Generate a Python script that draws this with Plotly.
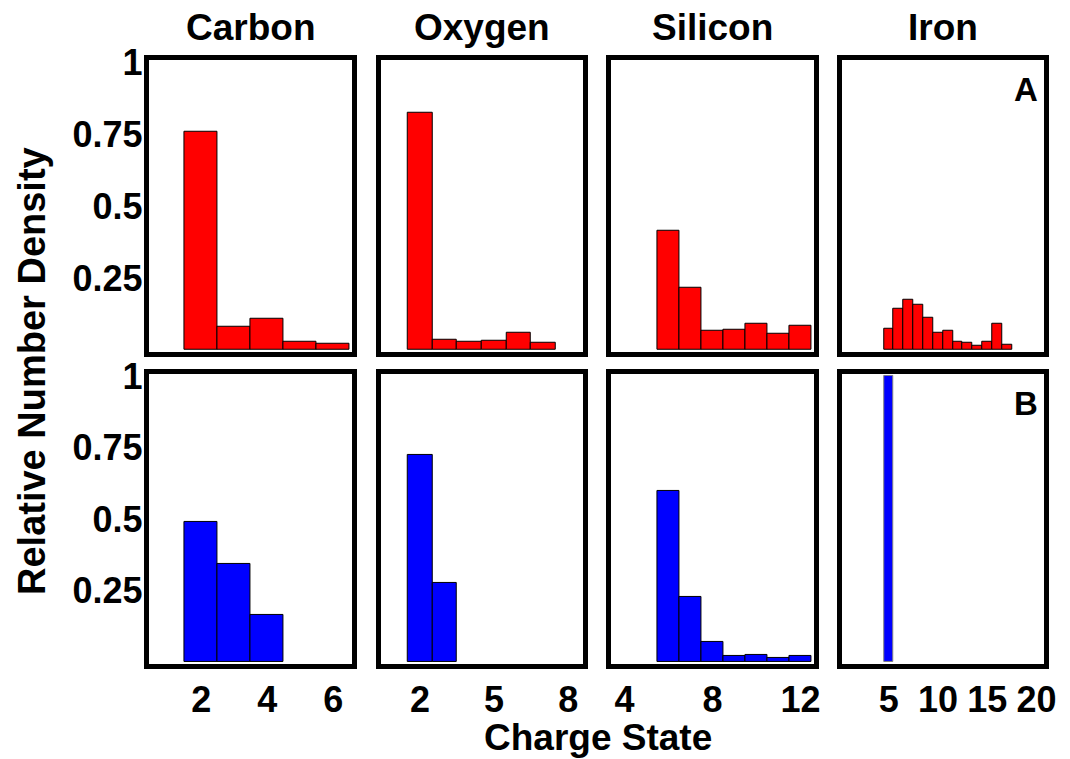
import plotly.graph_objects as go

# ---------------- data ----------------
elements = ["Carbon", "Oxygen", "Silicon", "Iron"]

carbon_states_A = [2, 3, 4, 5, 6]
carbon_A = [0.758, 0.082, 0.108, 0.030, 0.022]
carbon_states_B = [2, 3, 4]
carbon_B = [0.492, 0.344, 0.164]

oxygen_states_A = [2, 3, 4, 5, 6, 7]
oxygen_A = [0.822, 0.036, 0.028, 0.034, 0.061, 0.026]
oxygen_states_B = [2, 3]
oxygen_B = [0.724, 0.277]

silicon_states_A = [6, 7, 8, 9, 10, 11, 12]
silicon_A = [0.415, 0.217, 0.067, 0.071, 0.090, 0.057, 0.086]
silicon_states_B = [6, 7, 8, 9, 10, 11, 12]
silicon_B = [0.599, 0.229, 0.071, 0.021, 0.026, 0.014, 0.023]

iron_states_A = [5, 6, 7, 8, 9, 10, 11, 12, 13, 14, 15, 16, 17]
iron_A = [0.073, 0.142, 0.176, 0.157, 0.112, 0.059, 0.067, 0.028, 0.026, 0.014, 0.030, 0.092, 0.020]
iron_states_B = [5]
iron_B = [1.0]

x_ranges = [[0.5, 6.5], [0.5, 8.5], [3.5, 12.5], [0.5, 20.5]]
x_ticks = [[2, 4, 6], [2, 5, 8], [4, 8, 12], [5, 10, 15, 20]]
y_ticks = [0.25, 0.5, 0.75, 1]
y_ticktext = ["0.25", "0.5", "0.75", "1"]
panel_labels = ["A", "B"]

rows_data = [
    [(carbon_states_A, carbon_A), (oxygen_states_A, oxygen_A),
     (silicon_states_A, silicon_A), (iron_states_A, iron_A)],
    [(carbon_states_B, carbon_B), (oxygen_states_B, oxygen_B),
     (silicon_states_B, silicon_B), (iron_states_B, iron_B)],
]
row_colors = ["#ff0000", "#0000ff"]

# ---------------- layout geometry (px, border centres) ----------------
W, H = 1070, 759
LW = 4.5
col_px = [(147.2, 354.3), (378.5, 585.0), (609.2, 815.8), (840.0, 1045.8)]
row_px = [(57.5, 354.5), (371.7, 666.7)]

FONT = "Liberation Sans, Arial, Helvetica, sans-serif"

fig = go.Figure()
layout = dict(
    width=W, height=H,
    margin=dict(l=0, r=0, t=0, b=0, autoexpand=False),
    paper_bgcolor="white", plot_bgcolor="white",
    showlegend=False,
    font=dict(family=FONT, size=36, color="black", weight="bold"),
    bargap=0,
)

annotations = []
k = 0
for r in range(2):
    y0, y1 = row_px[r]
    ppu_y = (y1 - y0) / 1.0
    pad_y = (LW / 2) / ppu_y
    for c in range(4):
        k += 1
        xs, ys = rows_data[r][c]
        x0, x1 = col_px[c]
        xr = x_ranges[c]
        ppu_x = (x1 - x0) / (xr[1] - xr[0])
        pad_x = (LW / 2) / ppu_x
        xname = "x" if k == 1 else f"x{k}"
        yname = "y" if k == 1 else f"y{k}"
        outline = "#808080" if (r == 1 and c == 3) else "black"
        fig.add_trace(go.Bar(
            x=xs, y=ys, width=1.0,
            marker=dict(color=row_colors[r], line=dict(color=outline, width=1)),
            xaxis=xname, yaxis=yname, hoverinfo="skip",
        ))
        xd = [(x0 + LW / 2) / W, (x1 - LW / 2) / W]
        yd = [1 - (y1 - LW / 2) / H, 1 - (y0 + LW / 2) / H]
        xkey = "xaxis" if k == 1 else f"xaxis{k}"
        ykey = "yaxis" if k == 1 else f"yaxis{k}"
        layout[xkey] = dict(
            domain=xd, anchor=yname,
            range=[xr[0] - pad_x, xr[1] + pad_x],
            showline=True, mirror=True, linewidth=LW, linecolor="black",
            showgrid=False, zeroline=False, ticks="",
            tickvals=x_ticks[c], showticklabels=(r == 1),
            tickfont=dict(size=36), ticklabelstandoff=0,
        )
        layout[ykey] = dict(
            domain=yd, anchor=xname,
            range=[-pad_y, 1 + pad_y],
            showline=True, mirror=True, linewidth=LW, linecolor="black",
            showgrid=False, zeroline=False, ticks="",
            tickvals=y_ticks, ticktext=y_ticktext,
            showticklabels=(c == 0),
            tickfont=dict(size=36), ticklabelstandoff=-5,
        )
        if c == 3:
            annotations.append(dict(
                text=panel_labels[r], xref=f"{xname} domain", yref=f"{yname} domain",
                x=0.98, y=0.97, xanchor="right", yanchor="top", showarrow=False,
                font=dict(size=33, family=FONT, weight="bold"),
            ))

# column titles
for c, name in enumerate(elements):
    x0, x1 = col_px[c]
    annotations.append(dict(
        text=name, xref="paper", yref="paper",
        x=(x0 + x1) / 2 / W, y=1 - 28 / H, xanchor="center", yanchor="middle",
        showarrow=False, font=dict(size=37, family=FONT, weight="bold"),
    ))

annotations.append(dict(
    text="Charge State", xref="paper", yref="paper",
    x=598 / W, y=1 - 737 / H, xanchor="center", yanchor="middle",
    showarrow=False, font=dict(size=37, family=FONT, weight="bold"),
))
annotations.append(dict(
    text="Relative Number Density", xref="paper", yref="paper",
    x=32 / W, y=1 - 371 / H, xanchor="center", yanchor="middle", textangle=-90,
    showarrow=False, font=dict(size=38, family=FONT, weight="bold"),
))
layout["annotations"] = annotations

fig.update_layout(**layout)
fig.write_html(
    "out.html",
    config={"displayModeBar": False},
    post_script="document.body.style.margin='0';document.body.style.overflow='hidden';",
)
